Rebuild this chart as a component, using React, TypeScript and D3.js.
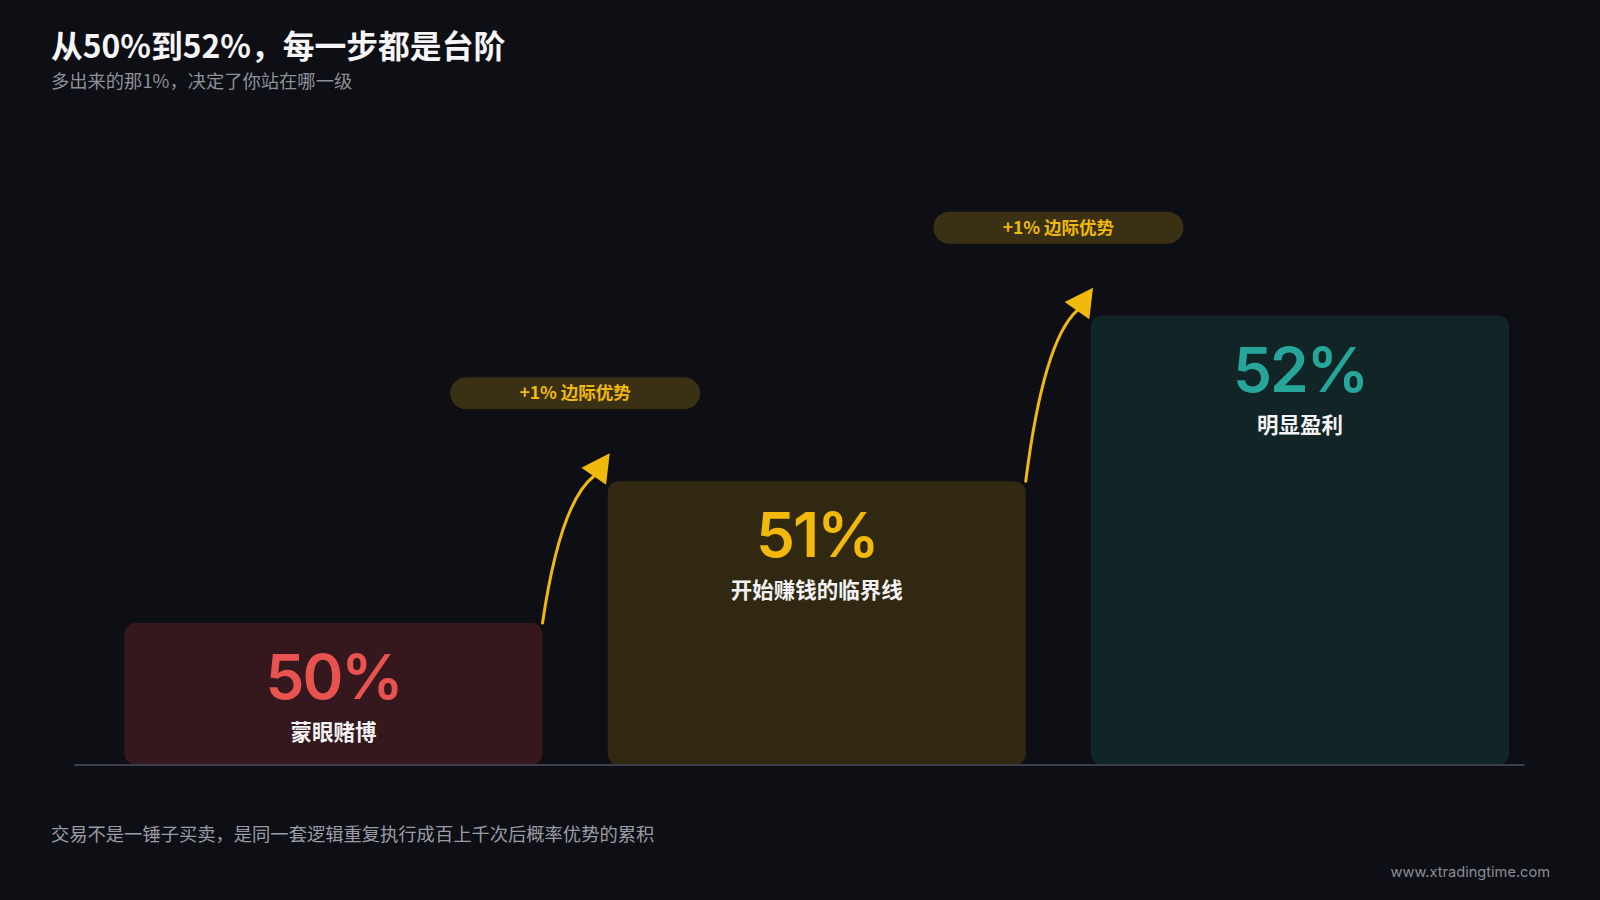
import React, { useEffect } from "react";
import * as d3 from "d3";

// ---- data ----
const categories = ["50%", "51%", "52%"];
const winRates = [50, 51, 52];
const stepLevels = [0.3, 0.6, 0.95]; // relative step height of each stair
const stepLabels = ["蒙眼赌博", "开始赚钱的临界线", "明显盈利"];
const edgeLabels = ["+1% 边际优势", "+1% 边际优势"];
const title = "从50%到52%，每一步都是台阶";
const subtitle = "多出来的那1%，决定了你站在哪一级";
const footnote = "交易不是一锤子买卖，是同一套逻辑重复执行成百上千次后概率优势的累积";
const siteLabel = "www.xtradingtime.com";

// ---- styles ----
const W = 1600;
const H = 900;
const BG = "#0e0f14";
const accent = ["#e8524f", "#f0b90b", "#26a69a"];
const fills = ["#35181d", "#302811", "#112527"];
const YELLOW = "#f0b90b";
const FONT = "Inter, 'Noto Sans CJK SC', 'Noto Sans', sans-serif";
const CJK = "'Noto Sans CJK SC', 'Noto Sans', sans-serif";

export default function App() {
  useEffect(() => {
    document.body.style.margin = "0";
    document.body.style.background = BG;
  }, []);

  const baseY = 765;
  const x = d3
    .scaleBand<string>()
    .domain(categories)
    .range([124.5, 1509])
    .paddingInner(0.135)
    .paddingOuter(0);
  const y = d3.scaleLinear().domain([0, 1]).range([baseY, baseY - 473]);
  const bw = x.bandwidth();

  const bars = categories.map((c, i) => ({
    c,
    i,
    x0: x(c) as number,
    top: y(stepLevels[i]),
  }));

  const arrows = bars.slice(0, -1).map((b, i) => {
    const nb = bars[i + 1];
    const x0 = b.x0 + bw;
    const y0 = b.top;
    const x1 = nb.x0;
    const y1 = nb.top;
    const end: [number, number] = [x1 - 14, y1 - 5];
    const tip: [number, number] = [x1 + 2, y1 - 28];
    const span = y0 - end[1];
    const p = d3.path();
    p.moveTo(x0, y0);
    p.bezierCurveTo(x0 + 8, y0 - span * 0.37, x0 + 23, y0 - span * 0.85, end[0], end[1]);
    const dx = tip[0] - end[0];
    const dy = tip[1] - end[1];
    const len = Math.hypot(dx, dy);
    const nx = -dy / len;
    const ny = dx / len;
    const hw = 15;
    const head = [
      tip,
      [end[0] + nx * hw, end[1] + ny * hw],
      [end[0] - nx * hw, end[1] - ny * hw],
    ];
    const pillCx = (x0 + x1) / 2;
    const pillCy = y1 - 88;
    return { d: p.toString(), head, pillCx, pillCy, label: edgeLabels[i] };
  });

  return (
    <svg width={W} height={H} style={{ display: "block" }} xmlns="http://www.w3.org/2000/svg">
      <rect x={0} y={0} width={W} height={H} fill={BG} />

      <text x={51} y={58} fill="#f5f5f7" fontFamily={CJK} fontSize={31.8} fontWeight={700}>
        {title}
      </text>
      <text x={51} y={88} fill="#8d9099" fontFamily={CJK} fontSize={18.3}>
        {subtitle}
      </text>

      {bars.map((b) => (
        <g key={b.c}>
          <rect
            x={b.x0}
            y={b.top}
            width={bw}
            height={baseY - b.top}
            rx={11}
            ry={11}
            fill={fills[b.i]}
          />
          <text
            x={b.x0 + bw / 2}
            y={b.top + 76}
            textAnchor="middle"
            fill={accent[b.i]}
            fontFamily={FONT}
            fontSize={62}
            fontWeight={600}
            letterSpacing={-2}
          >
            {winRates[b.i]}%
          </text>
          <text
            x={b.x0 + bw / 2}
            y={b.top + 117}
            textAnchor="middle"
            fill="#f2f2f4"
            fontFamily={CJK}
            fontSize={21.5}
            fontWeight={700}
          >
            {stepLabels[b.i]}
          </text>
        </g>
      ))}

      <line x1={74.5} x2={1524.5} y1={baseY} y2={baseY} stroke="#3a3e4a" strokeWidth={2} />

      {arrows.map((a, i) => (
        <g key={i}>
          <path d={a.d} fill="none" stroke={YELLOW} strokeWidth={3} strokeLinecap="round" />
          <polygon points={a.head.map((p) => p.join(",")).join(" ")} fill={YELLOW} />
          <rect
            x={a.pillCx - 125}
            y={a.pillCy - 16}
            width={250}
            height={32}
            rx={16}
            ry={16}
            fill="#3a3013"
          />
          <text
            x={a.pillCx}
            y={a.pillCy}
            dy="0.35em"
            textAnchor="middle"
            fill={YELLOW}
            fontFamily={CJK}
            fontSize={17.5}
            fontWeight={700}
          >
            {a.label}
          </text>
        </g>
      ))}

      <text x={51} y={841} fill="#9a9ca5" fontFamily={CJK} fontSize={18.3}>
        {footnote}
      </text>
      <text x={1550} y={877} textAnchor="end" fill="#8a8c94" fontFamily={FONT} fontSize={14.6}>
        {siteLabel}
      </text>
    </svg>
  );
}
